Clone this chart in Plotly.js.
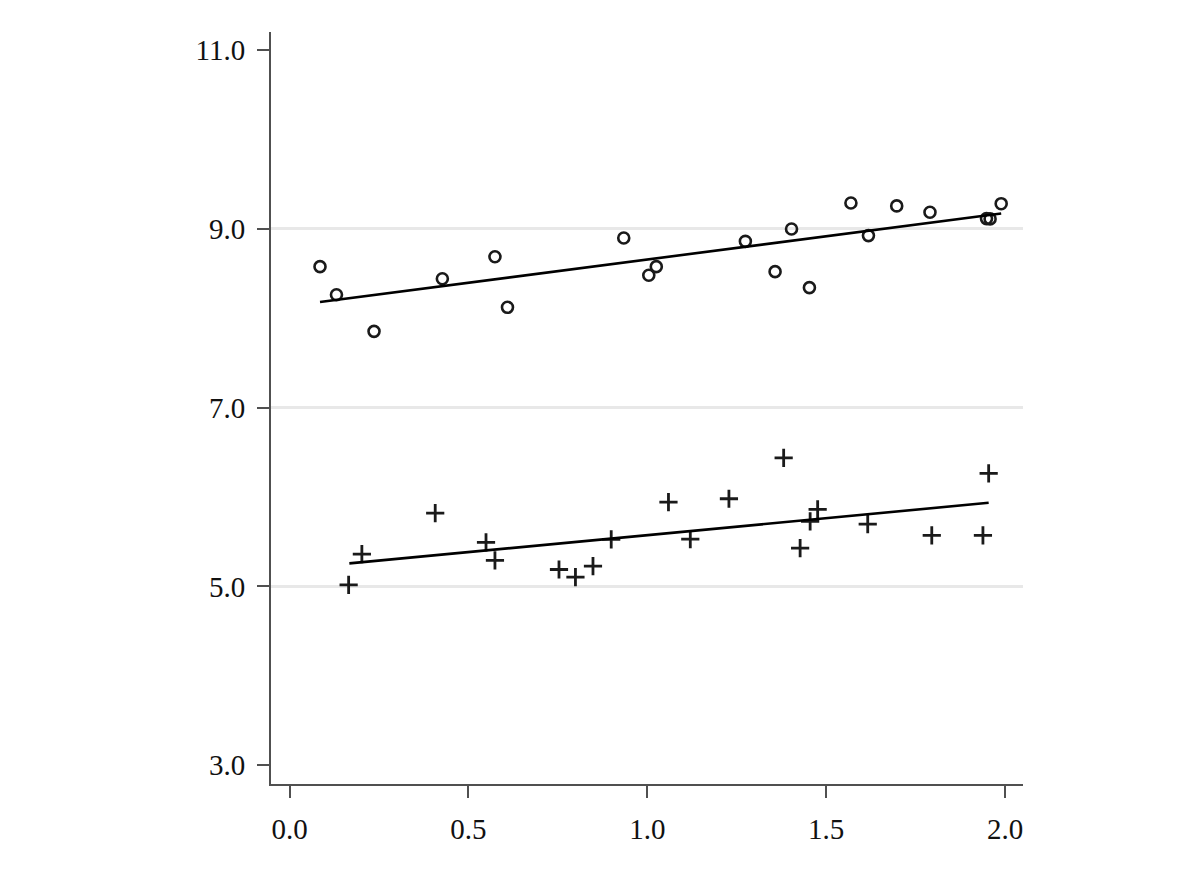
<!DOCTYPE html>
<html>
<head>
<meta charset="utf-8">
<script src="https://cdn.plot.ly/plotly-3.0.1.min.js"></script>
<style>
  html, body { margin: 0; padding: 0; background: white; }
  #graph { width: 1200px; height: 873px; }
</style>
</head>
<body>
<div id="graph"></div>
<script>
// upper group (circles)
var circX = [0.085, 0.131, 0.236, 0.427, 0.574, 0.609, 0.934, 1.004, 1.025, 1.274,
             1.357, 1.403, 1.453, 1.569, 1.618, 1.697, 1.790, 1.948, 1.958, 1.989];
var circY = [8.576, 8.262, 7.852, 8.441, 8.687, 8.121, 8.896, 8.479, 8.576, 8.859,
             8.520, 8.997, 8.341, 9.288, 8.923, 9.255, 9.184, 9.113, 9.110, 9.280];
var circFitX = [0.085, 1.989];
var circFitY = [8.18, 9.17];

// lower group (plus signs)
var plusX = [0.165, 0.202, 0.407, 0.549, 0.574, 0.753, 0.799, 0.848, 0.899, 1.059,
             1.120, 1.228, 1.381, 1.427, 1.455, 1.476, 1.616, 1.795, 1.938, 1.954];
var plusY = [5.018, 5.361, 5.820, 5.492, 5.290, 5.189, 5.104, 5.227, 5.525, 5.943,
             5.529, 5.980, 6.438, 5.428, 5.727, 5.861, 5.697, 5.570, 5.570, 6.264];
var plusFitX = [0.167, 1.954];
var plusFitY = [5.257, 5.935];

var xTicks = [0.0, 0.5, 1.0, 1.5, 2.0];
var yTicks = [3.0, 5.0, 7.0, 9.0, 11.0];
var yGrid = [5.0, 7.0, 9.0];

var markCol = "#1a1a1a";
var axisCol = "#505050";
var fontFam = "Liberation Serif, serif";

var data = [
  {
    x: circX, y: circY, type: 'scatter', mode: 'markers',
    marker: { symbol: 'circle-open', size: 11, color: markCol, line: { width: 2.6, color: markCol } }
  },
  {
    x: circFitX, y: circFitY, type: 'scatter', mode: 'lines',
    line: { color: 'black', width: 2.6 }
  },
  {
    x: plusX, y: plusY, type: 'scatter', mode: 'markers',
    marker: { symbol: 'cross-thin-open', size: 13, color: markCol, line: { width: 2.8, color: markCol } }
  },
  {
    x: plusFitX, y: plusFitY, type: 'scatter', mode: 'lines',
    line: { color: 'black', width: 2.6 }
  }
];

var layout = {
  width: 1200,
  height: 873,
  margin: { l: 271, r: 177, t: 32, b: 89 },
  showlegend: false,
  paper_bgcolor: 'white',
  plot_bgcolor: 'white',
  font: { family: fontFam, size: 29, color: '#111111' },
  xaxis: {
    range: [-0.052, 2.05],
    tickvals: xTicks,
    ticktext: xTicks.map(function (v) { return v.toFixed(1); }),
    showgrid: false,
    zeroline: false,
    showline: true,
    linecolor: axisCol,
    linewidth: 2,
    ticks: 'outside',
    ticklen: 12,
    tickwidth: 2,
    tickcolor: axisCol,
    ticklabelstandoff: 6
  },
  yaxis: {
    range: [2.79, 11.2],
    tickvals: yTicks,
    ticktext: yTicks.map(function (v) { return v.toFixed(1); }),
    showgrid: false,
    zeroline: false,
    showline: true,
    linecolor: axisCol,
    linewidth: 2,
    ticks: 'outside',
    ticklen: 12,
    tickwidth: 2,
    tickcolor: axisCol,
    ticklabelstandoff: 6
  },
  yaxis2: {
    overlaying: 'y',
    matches: 'y',
    range: [2.79, 11.2],
    tickvals: yGrid,
    showticklabels: false,
    showgrid: true,
    gridcolor: '#e8e8e8',
    gridwidth: 2.5,
    zeroline: false,
    showline: false,
    ticks: ''
  }
};

// invisible trace to carry the grid axis
data.unshift({ x: [], y: [], yaxis: 'y2', type: 'scatter', hoverinfo: 'skip' });

var config = { displayModeBar: false, staticPlot: true };

Plotly.newPlot(document.getElementById('graph'), data, layout, config);
</script>
</body>
</html>
